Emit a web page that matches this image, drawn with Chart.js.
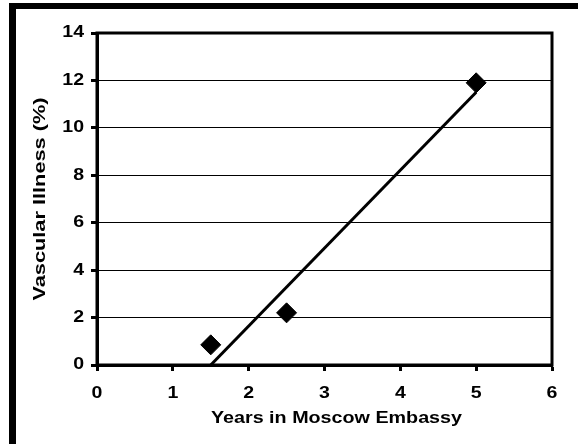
<!DOCTYPE html>
<html>
<head>
<meta charset="utf-8">
<script src="https://cdn.jsdelivr.net/npm/chart.js@4"></script>
<style>
  body { margin: 0; background: #fff; }
  #wrap { position: relative; width: 578px; height: 444px; }
  #frame { position: absolute; left: 9px; top: 3px; right: 0; bottom: 0;
           border-top: 6px solid #000; border-left: 7px solid #000; }
  canvas { position: absolute; left: 0; top: 0; }
</style>
</head>
<body>
<div id="wrap">
  <canvas id="chart" width="578" height="444"></canvas>
  <div id="frame"></div>
</div>
<script>
// observed points
const years = [1.5, 2.5, 5];
const illness = [0.85, 2.2, 11.9];
// linear trend line endpoints
const trendYears = [1.5, 5];
const trendIllness = [0, 11.5];

const xTicks = [0, 1, 2, 3, 4, 5, 6];
const yTicks = [0, 2, 4, 6, 8, 10, 12, 14];

const xTitle = 'Years in Moscow Embassy';
const yTitle = 'Vascular Illness (%)';

const tickFont = { family: 'Liberation Sans, Arial, sans-serif', size: 16, weight: 'bold' };
const titleFont = { family: 'Liberation Sans, Arial, sans-serif', size: 17, weight: 'bold' };

// the original picture has wide lettering, so stretch text along its baseline
const stretchText = {
    id: 'stretchText',
    beforeDraw(chart) {
        const c = chart.ctx;
        if (c._stretched) return;
        c._stretched = true;
        const orig = c.fillText.bind(c);
        c.fillText = function (t, x, y) {
            const m = c.getTransform();
            let k = 1.22;
            if (Math.abs(m.b) > 0.5) k = 1.28;
            else if (c.font.indexOf('17px') >= 0) k = 1.16;
            // x title sits a little right of centre in the original
            if (t === xTitle) x += 12;
            c.save();
            c.translate(x, y);
            c.scale(k, 1);
            orig(t, 0, 0);
            c.restore();
        };
    }
};

// thick box round the plot area
const plotBox = {
    id: 'plotBox',
    afterDraw(chart) {
        const a = chart.chartArea;
        const ctx = chart.ctx;
        ctx.save();
        ctx.strokeStyle = '#000';
        ctx.lineWidth = 3;
        ctx.strokeRect(a.left, a.top, a.right - a.left, a.bottom - a.top);
        ctx.restore();
    }
};

const ctx = document.getElementById('chart').getContext('2d');
new Chart(ctx, {
    type: 'scatter',
    data: {
        datasets: [{
            label: 'Trend',
            type: 'line',
            data: trendYears.map((x, i) => ({ x: x, y: trendIllness[i] })),
            borderColor: '#000',
            borderWidth: 3,
            pointRadius: 0,
            fill: false,
            order: 2
        }, {
            label: 'Vascular illness',
            data: years.map((x, i) => ({ x: x, y: illness[i] })),
            pointStyle: 'rectRot',
            pointRadius: 10,
            backgroundColor: '#000',
            borderColor: '#000',
            borderWidth: 1,
            order: 1
        }]
    },
    options: {
        responsive: false,
        animation: false,
        layout: { padding: { left: 0, top: 33, right: 26, bottom: 0 } },
        plugins: {
            legend: { display: false },
            tooltip: { enabled: false }
        },
        scales: {
            x: {
                type: 'linear',
                min: 0,
                max: 6,
                afterBuildTicks: s => { s.ticks = xTicks.map(v => ({ value: v })); },
                afterFit: s => { s.height = 79; },
                grid: { drawOnChartArea: false, drawTicks: true, tickLength: 6, tickWidth: 3, tickColor: '#000' },
                border: { display: true, color: '#000', width: 3 },
                ticks: { color: '#000', font: tickFont, padding: 13, maxRotation: 0 },
                title: { display: true, text: xTitle, color: '#000', font: titleFont, padding: { top: 0, bottom: 15 } }
            },
            y: {
                min: 0,
                max: 14,
                afterBuildTicks: s => { s.ticks = yTicks.map(v => ({ value: v })); },
                afterFit: s => { s.width = 97; },
                grid: { color: '#000', lineWidth: 1, drawTicks: true, tickLength: 6, tickWidth: 3, tickColor: '#000' },
                border: { display: true, color: '#000', width: 3 },
                ticks: { color: '#000', font: tickFont, padding: 7 },
                title: { display: true, text: yTitle, color: '#000', font: titleFont, padding: { top: 30, bottom: 4 } }
            }
        }
    },
    plugins: [stretchText, plotBox]
});
</script>
</body>
</html>
